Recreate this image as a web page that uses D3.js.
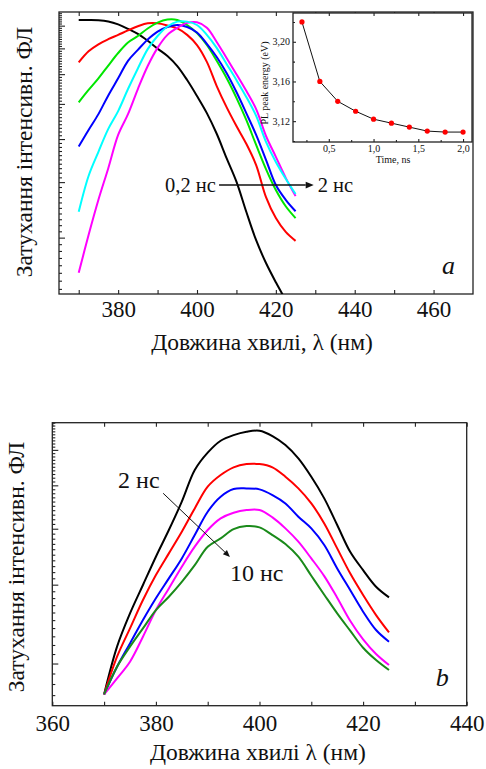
<!DOCTYPE html>
<html>
<head>
<meta charset="utf-8">
<script src="https://cdn.jsdelivr.net/npm/d3@7"></script>
<style>
  body { margin: 0; background: #fff; }
  svg text { font-family: "Liberation Serif", "Times New Roman", "DejaVu Serif", serif !important; }
  .frame { fill: none; stroke: #222; stroke-width: 1.3; }
  .tick line { stroke: #222; stroke-width: 1.1; }
</style>
</head>
<body>
<svg id="chart" width="486" height="769"></svg>
<script>
// ---- panel a: decay spectra 0.2 ... 2 ns
var wavelengths = [370, 372.5, 375, 377.5, 380, 382.5, 385, 387.5, 390, 392.5, 395, 397.5,
                   400, 402.5, 405, 407.5, 410, 412.5, 415, 417.5, 420, 422.5, 425];
var topBlack   = [9.27, 9.27, 9.26, 9.20, 9.06, 8.85, 8.62, 8.32, 7.99, 7.69, 7.30, 6.79, 6.25, 5.72, 5.14, 4.53, 4.01, 3.43, 2.96, 2.63, 2.38, 2.17, 1.98];
var topRed     = [7.44, 7.88, 8.17, 8.39, 8.58, 8.78, 8.97, 9.11, 9.11, 9.01, 8.87, 8.58, 8.14, 7.46, 6.58, 5.90, 5.35, 4.88, 4.37, 3.70, 3.32, 3.09, 2.95];
var topGreen   = [6.05, 6.45, 6.85, 7.32, 7.81, 8.25, 8.53, 8.87, 9.14, 9.29, 9.27, 9.03, 8.66, 8.14, 7.50, 6.86, 6.19, 5.52, 4.85, 4.28, 3.84, 3.53, 3.32];
var topBlue    = [4.81, 5.24, 5.69, 6.27, 6.85, 7.50, 7.94, 8.38, 8.73, 8.94, 9.03, 8.94, 8.69, 8.19, 7.65, 7.04, 6.38, 5.72, 5.11, 4.49, 3.94, 3.65, 3.44];
var topCyan    = [3.43, 4.13, 4.68, 5.27, 5.78, 6.48, 7.21, 7.97, 8.53, 8.96, 9.19, 9.19, 9.03, 8.58, 8.02, 7.38, 6.79, 6.22, 5.64, 4.93, 4.44, 4.07, 3.76];
var topMagenta = [2.50, 3.04, 3.65, 4.30, 5.11, 5.69, 6.48, 7.30, 8.02, 8.58, 8.90, 9.13, 9.16, 8.90, 8.27, 7.61, 7.00, 6.42, 5.84, 5.08, 4.56, 4.09, 3.72];

// inset: PL peak energy vs time
var insetTime   = [0.2, 0.4, 0.6, 0.8, 1.0, 1.2, 1.4, 1.6, 1.8, 2.0];
var insetEnergy = [3.220, 3.160, 3.140, 3.130, 3.122, 3.118, 3.114, 3.110, 3.109, 3.109];
var insetXTicks = [0.5, 1.0, 1.5, 2.0];
var insetYTicks = [3.12, 3.16, 3.20];

// ---- panel b: decay spectra 2 ... 10 ns
var bottomBlack   = [1.706, 2.181, 2.588, 2.995, 3.464, 3.973, 4.597, 5.409, 5.914, 6.288, 6.474, 6.587, 6.620, 6.442, 6.151, 5.743, 5.226, 4.676, 4.077, 3.553, 3.233, 2.969, 2.811];
var bottomRed     = [1.706, 2.071, 2.396, 2.772, 3.152, 3.524, 3.939, 4.441, 4.965, 5.271, 5.484, 5.578, 5.578, 5.484, 5.226, 4.922, 4.556, 4.111, 3.615, 3.180, 2.845, 2.566, 2.347];
var bottomBlue    = [1.706, 1.967, 2.218, 2.501, 2.797, 3.098, 3.434, 3.872, 4.366, 4.716, 4.905, 4.922, 4.897, 4.757, 4.556, 4.255, 4.007, 3.679, 3.261, 2.918, 2.611, 2.376, 2.237];
var bottomMagenta = [1.706, 1.853, 2.019, 2.296, 2.633, 2.943, 3.290, 3.647, 3.973, 4.218, 4.343, 4.403, 4.403, 4.240, 4.007, 3.742, 3.434, 3.135, 2.805, 2.492, 2.264, 2.100, 1.984];
var bottomGreen   = [1.706, 1.967, 2.181, 2.396, 2.633, 2.820, 3.045, 3.318, 3.647, 3.806, 3.993, 4.055, 4.028, 3.872, 3.697, 3.464, 3.141, 2.849, 2.588, 2.368, 2.169, 2.036, 1.934];

var topXTicks = [370, 380, 390, 400, 410, 420, 430, 440, 450, 460];
var bottomXTicks = [360, 370, 380, 390, 400, 410, 420, 430, 440];

var svg = d3.select("#chart");

function minorLogTicks(lo, hi) {
	// every 0.1 inside the domain, integers are majors
	var out = [];
	for (var i = Math.ceil(lo * 10); i <= Math.floor(hi * 10); ++i) {
		if (i % 10 !== 0) out.push(i / 10);
	}
	return out;
}

function drawPanel(cfg) {
	var x = d3.scaleLinear().domain(cfg.xDomain).range([cfg.left, cfg.right]);
	var y = d3.scaleLog().domain(cfg.yDomain).range([cfg.bottom, cfg.top]);
	var g = svg.append("g");

	var clipId = cfg.id + "-clip";
	g.append("clipPath").attr("id", clipId)
		.append("rect")
		.attr("x", cfg.left).attr("y", cfg.top)
		.attr("width", cfg.right - cfg.left).attr("height", cfg.bottom - cfg.top);

	// ticks (all pointing inside)
	var majors = d3.range(Math.ceil(cfg.yDomain[0]), Math.floor(cfg.yDomain[1]) + 1);
	g.append("g").attr("transform", "translate(" + cfg.left + ",0)")
		.call(d3.axisLeft(y).tickValues(majors).tickSize(-6).tickFormat(""))
		.call(function(s) { s.select(".domain").remove(); });
	g.append("g").attr("transform", "translate(" + cfg.left + ",0)")
		.call(d3.axisLeft(y).tickValues(minorLogTicks(cfg.yDomain[0], cfg.yDomain[1])).tickSize(-3).tickFormat(""))
		.call(function(s) { s.select(".domain").remove(); });

	g.append("g").attr("transform", "translate(0," + cfg.bottom + ")")
		.call(d3.axisBottom(x).tickValues(cfg.xTicks).tickSize(-4).tickPadding(cfg.tickPad)
			.tickFormat(function(d) { return d % 20 === 0 ? d : ""; }))
		.call(function(s) {
			s.select(".domain").remove();
			s.selectAll("text").attr("font-size", 23).attr("fill", "#111");
		});
	g.append("g").attr("transform", "translate(0," + cfg.top + ")")
		.call(d3.axisTop(x).tickValues(cfg.xTicks).tickSize(-4).tickFormat(""))
		.call(function(s) { s.select(".domain").remove(); });

	g.append("rect").attr("class", "frame")
		.attr("x", cfg.left).attr("y", cfg.top)
		.attr("width", cfg.right - cfg.left).attr("height", cfg.bottom - cfg.top);

	var line = d3.line()
		.x(function(d) { return x(d[0]); })
		.y(function(d) { return y(d[1]); })
		.curve(d3.curveCatmullRom.alpha(0.5));

	g.append("g").attr("clip-path", "url(#" + clipId + ")")
		.selectAll("path")
		.data(cfg.series)
		.enter()
		.append("path")
		.attr("d", function(s) { return line(d3.zip(wavelengths, s.values)); })
		.attr("fill", "none")
		.attr("stroke", function(s) { return s.color; })
		.attr("stroke-width", 2)
		.attr("stroke-linejoin", "round");

	// axis titles
	g.append("text")
		.attr("x", cfg.xTitlePos[0]).attr("y", cfg.xTitlePos[1])
		.attr("text-anchor", "middle").attr("font-size", 23.5).attr("fill", "#111")
		.text(cfg.xTitle);
	g.append("text")
		.attr("transform", "translate(" + cfg.yTitlePos[0] + "," + cfg.yTitlePos[1] + ") rotate(-90)")
		.attr("text-anchor", "middle").attr("font-size", 23.5).attr("fill", "#111")
		.text("Затухання інтенсивн. ФЛ");

	// panel letter
	g.append("text")
		.attr("x", cfg.right - 31).attr("y", cfg.bottom - 20)
		.attr("font-size", 26).attr("font-style", "italic").attr("fill", "#111")
		.text(cfg.letter);

	return {g: g, x: x, y: y};
}

function arrow(g, x1, y1, x2, y2, w, head) {
	var ang = Math.atan2(y2 - y1, x2 - x1);
	var bx = x2 - head * Math.cos(ang), by = y2 - head * Math.sin(ang);
	g.append("line")
		.attr("x1", x1).attr("y1", y1).attr("x2", bx).attr("y2", by)
		.attr("stroke", "#111").attr("stroke-width", w);
	var px = Math.sin(ang) * head * 0.42, py = -Math.cos(ang) * head * 0.42;
	g.append("path")
		.attr("d", "M" + x2 + "," + y2 + "L" + (bx + px) + "," + (by + py) + "L" + (bx - px) + "," + (by - py) + "Z")
		.attr("fill", "#111");
}

// ---------- panel a
var a = drawPanel({
	id: "a", left: 59, right: 473, top: 12, bottom: 294,
	xDomain: [365, 470], yDomain: [2.24, 9.66], xTicks: topXTicks, tickPad: 7,
	xTitle: "Довжина хвилі, λ (нм)", xTitlePos: [262, 350], yTitlePos: [32, 152],
	letter: "a",
	series: [
		{values: topBlack, color: "#000"},
		{values: topRed, color: "#ff0000"},
		{values: topGreen, color: "#00e600"},
		{values: topBlue, color: "#0000ff"},
		{values: topMagenta, color: "#ff00ff"},
		{values: topCyan, color: "#00ffff"}
	]
});

a.g.append("text")
	.attr("x", a.x(404.8)).attr("y", a.y(3.94)).attr("dy", "0.33em")
	.attr("text-anchor", "end").attr("font-size", 20.5).attr("fill", "#111")
	.text("0,2 нс");
arrow(a.g, a.x(405.6), a.y(3.94), a.x(429.6), a.y(3.94), 1.6, 8);
a.g.append("text")
	.attr("x", a.x(430.6)).attr("y", a.y(3.94)).attr("dy", "0.33em")
	.attr("font-size", 20.5).attr("fill", "#111")
	.text("2 нс");

// inset
var ins = {left: 293, right: 472, top: 13, bottom: 142};
var ix = d3.scaleLinear().domain([0.1, 2.1]).range([ins.left, ins.right]);
var iy = d3.scaleLinear().domain([3.099, 3.229]).range([ins.bottom, ins.top]);
var ig = svg.append("g");
ig.append("rect")
	.attr("x", ins.left).attr("y", ins.top)
	.attr("width", ins.right - ins.left).attr("height", ins.bottom - ins.top)
	.attr("fill", "#fff");
var commaFmt = function(digits) {
	return function(d) { return d.toFixed(digits).replace(".", ","); };
};
ig.append("g").attr("transform", "translate(0," + ins.bottom + ")")
	.call(d3.axisBottom(ix).tickValues(insetXTicks).tickSize(-3).tickPadding(3).tickFormat(commaFmt(1)))
	.call(function(s) { s.select(".domain").remove(); s.selectAll("text").attr("font-size", 10).attr("fill", "#111"); });
ig.append("g").attr("transform", "translate(0," + ins.bottom + ")")
	.call(d3.axisBottom(ix).tickValues([0.25, 0.75, 1.25, 1.75]).tickSize(-2).tickFormat(""))
	.call(function(s) { s.select(".domain").remove(); });
ig.append("g").attr("transform", "translate(0," + ins.top + ")")
	.call(d3.axisTop(ix).tickValues(insetXTicks).tickSize(-3).tickFormat(""))
	.call(function(s) { s.select(".domain").remove(); });
ig.append("g").attr("transform", "translate(" + ins.left + ",0)")
	.call(d3.axisLeft(iy).tickValues(insetYTicks).tickSize(-3).tickPadding(3).tickFormat(commaFmt(2)))
	.call(function(s) { s.select(".domain").remove(); s.selectAll("text").attr("font-size", 10).attr("fill", "#111"); });
ig.append("g").attr("transform", "translate(" + ins.left + ",0)")
	.call(d3.axisLeft(iy).tickValues([3.10, 3.14, 3.18, 3.22]).tickSize(-2).tickFormat(""))
	.call(function(s) { s.select(".domain").remove(); });
ig.append("rect").attr("class", "frame").attr("stroke-width", 1)
	.attr("x", ins.left).attr("y", ins.top)
	.attr("width", ins.right - ins.left).attr("height", ins.bottom - ins.top);

var insetPts = d3.zip(insetTime, insetEnergy);
ig.append("path")
	.attr("d", d3.line().x(function(d) { return ix(d[0]); }).y(function(d) { return iy(d[1]); })(insetPts))
	.attr("fill", "none").attr("stroke", "#111").attr("stroke-width", 1);
ig.selectAll("circle")
	.data(insetPts)
	.enter()
	.append("circle")
	.attr("cx", function(d) { return ix(d[0]); })
	.attr("cy", function(d) { return iy(d[1]); })
	.attr("r", 2.6)
	.attr("fill", "#ff0000");
ig.append("text")
	.attr("x", 393).attr("y", ins.bottom + 21)
	.attr("text-anchor", "middle").attr("font-size", 10).attr("fill", "#111")
	.text("Time, ns");
ig.append("text")
	.attr("transform", "translate(268,83) rotate(-90)")
	.attr("text-anchor", "middle").attr("font-size", 10).attr("fill", "#111")
	.text("PL peak energy (eV)");

// ---------- panel b
var b = drawPanel({
	id: "b", left: 52.3, right: 466.7, top: 422.7, bottom: 705.7,
	xDomain: [360, 440], yDomain: [1.61, 6.9], xTicks: bottomXTicks, tickPad: 9,
	xTitle: "Довжина хвилі λ (нм)", xTitlePos: [258, 760], yTitlePos: [24, 567],
	letter: "b",
	series: [
		{values: bottomBlack, color: "#000"},
		{values: bottomRed, color: "#ff0000"},
		{values: bottomBlue, color: "#0000ff"},
		{values: bottomMagenta, color: "#ff00ff"},
		{values: bottomGreen, color: "#1a8a1a"}
	]
});

b.g.append("text")
	.attr("x", b.x(372.7)).attr("y", b.y(4.93))
	.attr("font-size", 24).attr("fill", "#111")
	.text("2 нс");
arrow(b.g, b.x(381.4), b.y(4.80), b.x(394.3), b.y(3.46), 1, 7);
b.g.append("text")
	.attr("x", b.x(394.3)).attr("y", b.y(3.05))
	.attr("font-size", 24).attr("fill", "#111")
	.text("10 нс");
</script>
</body>
</html>
